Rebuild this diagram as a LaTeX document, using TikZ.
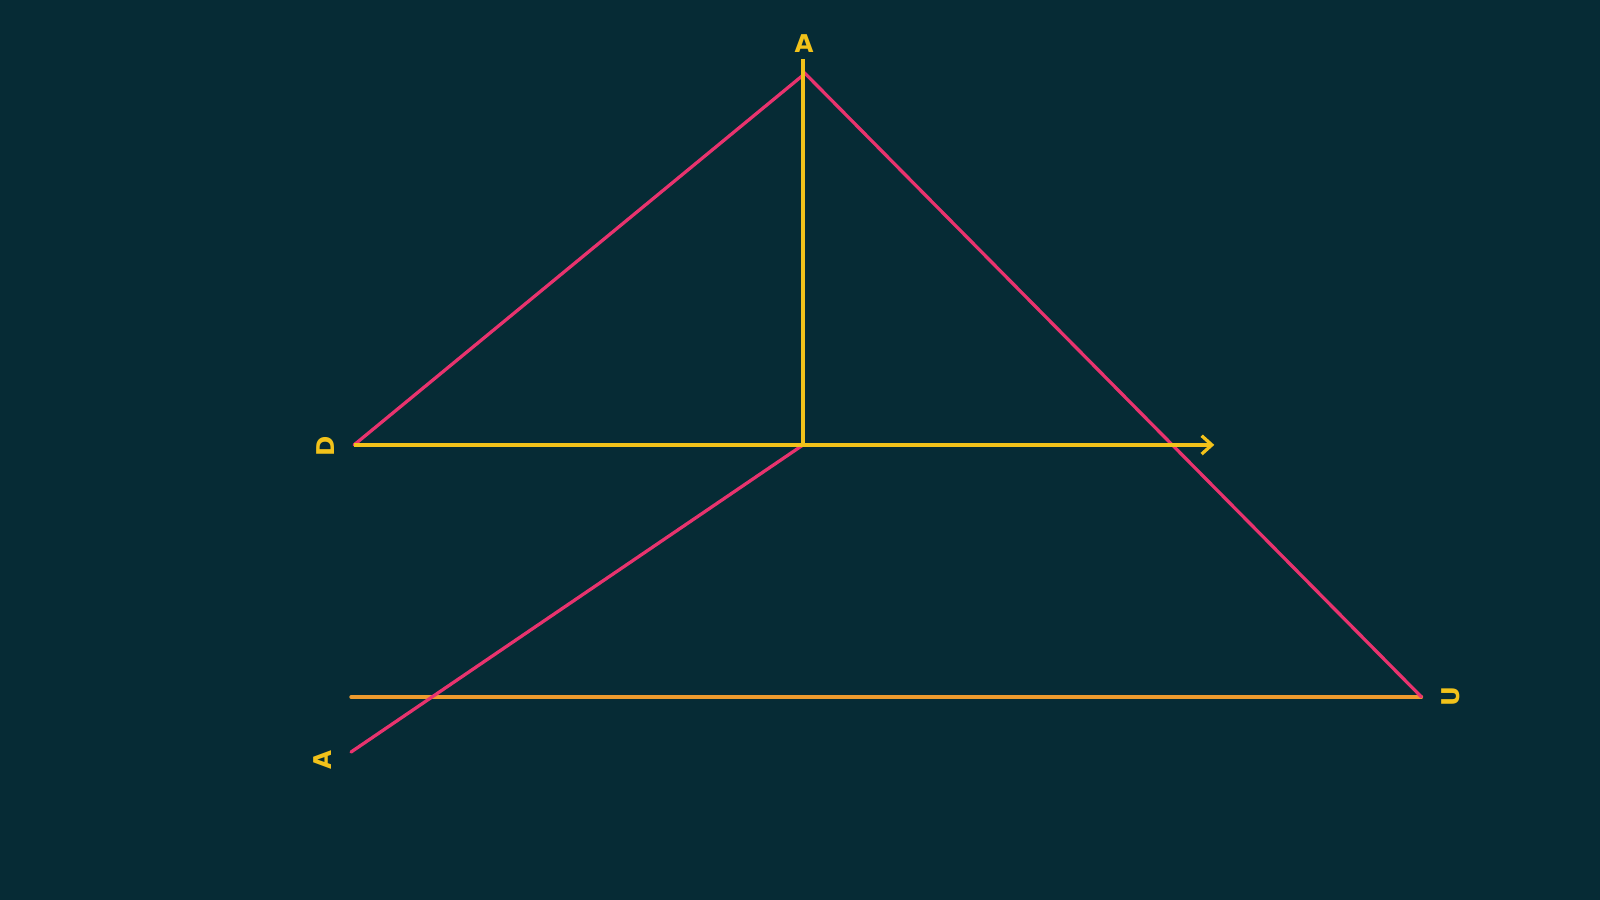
\documentclass[tikz,border=0pt]{standalone}
\usepackage{fontspec}
\setsansfont{DejaVu Sans}
\usetikzlibrary{arrows.meta}
\definecolor{bg}{HTML}{062B35}
\definecolor{pinkl}{HTML}{E8336E}
\definecolor{yell}{HTML}{F2C21A}
\definecolor{oran}{HTML}{EE9B2E}
\tikzset{
  pinkline/.style={draw=pinkl, line width=1.6pt, line cap=round},
  yline/.style={draw=yell, line width=1.6pt},
  oline/.style={draw=oran, line width=1.7pt, line cap=round},
  lab/.style={text=yell, font=\fontsize{12}{14}\selectfont\sffamily\bfseries, inner sep=0pt}
}
\begin{document}
\begin{tikzpicture}[x=0.5pt,y=-0.5pt]
\fill[bg] (0,0) rectangle (1568,882);
\useasboundingbox (0,0) rectangle (1568,882);
\coordinate (apex) at (789,72);
\coordinate (vtop) at (787,58);
\coordinate (O) at (787,436);
\coordinate (L) at (347,436);
\coordinate (tip) at (1190,436);
\coordinate (R) at (1393,683);
\coordinate (BL) at (344,683);
\coordinate (P) at (344,737);
\node[lab] (la) at (788,43) {A};
\node[lab, rotate=90] (ld) at (319,437) {D};
\node[lab, rotate=90] (lv) at (316,745) {A};
\node[lab, rotate=90] (lu) at (1422,683) {U};
\draw[oline] (BL) -- (R);
\draw[pinkline] (L) -- (apex) -- (R);
\draw[pinkline] (O) -- (P);
\draw[yline] (vtop) -- (O);
\draw[yline, -{Straight Barb[length=5pt,width=9pt,line width=1.6pt]}] (L) -- (tip);
\end{tikzpicture}
\end{document}
